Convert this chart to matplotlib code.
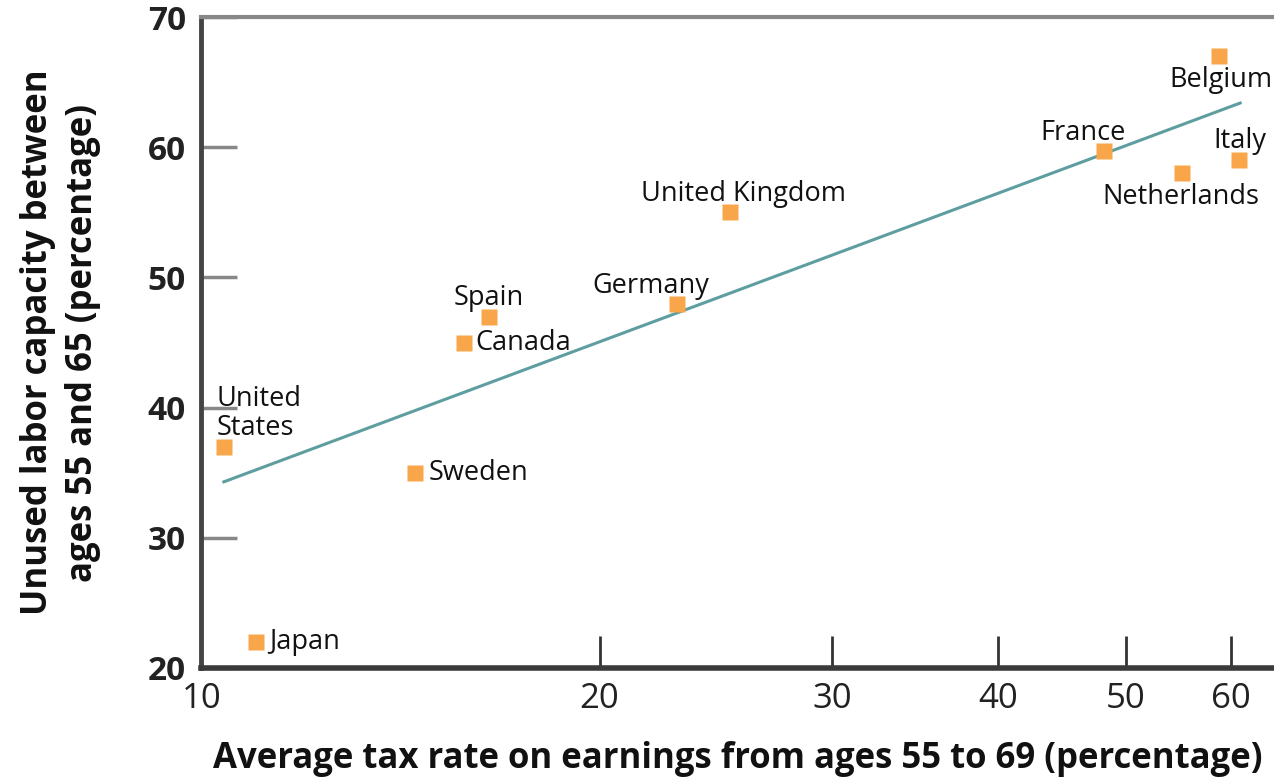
import matplotlib.pyplot as plt

# Tax rate (%) vs unused labor capacity (%)
countries = ["United\nStates", "Japan", "Sweden", "Canada", "Spain", "Germany",
             "United Kingdom", "France", "Netherlands", "Belgium", "Italy"]
tax_rate = [10.4, 11.0, 14.5, 15.8, 16.5, 22.9, 25.1, 48.1, 55.1, 58.8, 60.9]
unused = [37, 22, 35, 45, 47, 48, 55, 59.7, 58, 67, 59]

trend_x = [10.4, 61.0]
trend_y = [34.3, 63.4]

x_ticks = [10, 20, 30, 40, 50, 60]
y_ticks = [20, 30, 40, 50, 60, 70]

# label placement: (dx, dy) in pixels from the point, ha, va
label_pos = [
    (-7, 12, "left", "baseline"),
    (13, 0, "left", "center"),
    (14, 0, "left", "center"),
    (11, 0, "left", "center"),
    (0, 12, "center", "baseline"),
    (-26, 11, "center", "baseline"),
    (13, 11, "center", "baseline"),
    (-21, 11, "center", "baseline"),
    (-1, -10, "center", "top"),
    (2, -10, "center", "top"),
    (1, 12, "center", "baseline"),
]

plt.rcParams["font.family"] = ["Open Sans", "DejaVu Sans"]

fig = plt.figure(figsize=(12.74, 7.78), dpi=100)
ax = fig.add_axes([0.158, 0.1414, 0.842, 0.8366])

ax.plot(trend_x, trend_y, color="#5E9EA0", lw=2.2, zorder=2)
ax.plot(tax_rate, unused, "s", color="#F9A64A", ms=11.5, mec="none", zorder=3)

for name, x, y, (dx, dy, ha, va) in zip(countries, tax_rate, unused, label_pos):
    ax.annotate(name, (x, y), xytext=(dx, dy), textcoords="offset pixels",
                ha=ha, va=va, fontsize=19.5, color="#111111", linespacing=1.05)

ax.set_xscale("log")
ax.set_xlim(10, 64.7)
ax.set_ylim(20, 70)
ax.set_xticks(x_ticks)
ax.set_xticklabels([str(t) for t in x_ticks])
ax.minorticks_off()
ax.set_yticks(y_ticks)
ax.set_yticklabels([str(t) for t in y_ticks])

ax.tick_params(axis="x", direction="in", length=23, width=2, color="#333333",
               labelsize=25, pad=10, labelcolor="#222222")
ax.tick_params(axis="y", direction="in", length=26, width=2.5, color="#888888",
               labelsize=24, pad=11, labelcolor="#222222")
for lab in ax.get_yticklabels():
    lab.set_fontweight("bold")

ax.spines["right"].set_visible(False)
ax.spines["left"].set_color("#444444")
ax.spines["left"].set_linewidth(3.5)
ax.spines["bottom"].set_color("#3a3a3a")
ax.spines["bottom"].set_linewidth(4)
ax.spines["top"].set_color("#888888")
ax.spines["top"].set_linewidth(3)

ax.set_xlabel("Average tax rate on earnings from ages 55 to 69 (percentage)",
              fontsize=25, fontweight="bold", labelpad=18, color="#111111")
ax.set_ylabel("Unused labor capacity between\nages 55 and 65 (percentage)",
              fontsize=25, fontweight="bold", labelpad=34, color="#111111",
              linespacing=1.3)

fig.savefig("out.png", dpi=100)
